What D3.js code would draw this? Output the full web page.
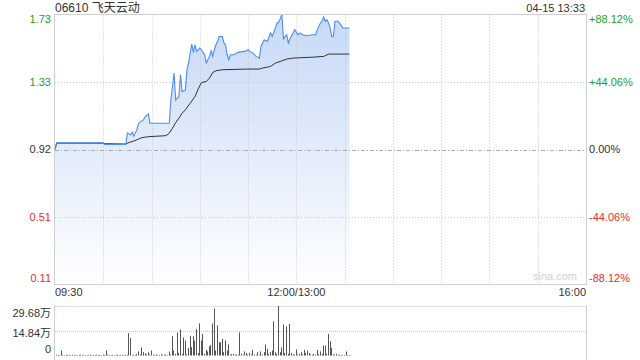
<!DOCTYPE html>
<html>
<head>
<meta charset="utf-8">
<script src="https://cdn.jsdelivr.net/npm/d3@7"></script>
<style>
body { margin: 0; background: #fff; }
text { font-family: "Liberation Sans", Arial, "Noto Sans CJK SC", sans-serif; font-size: 11px; }
</style>
</head>
<body>
<div class="chart"></div>
<script>
var stockCode = "06610", stockName = "飞天云动", stamp = "04-15 13:33";
var prevClose = 0.92;
var pctTicks = [-0.8812, -0.4406, 0, 0.4406, 0.8812];
var priceTickLabels = ["0.11", "0.51", "0.92", "1.33", "1.73"];
var pctTickLabels = ["-88.12%", "-44.06%", "0.00%", "+44.06%", "+88.12%"];
var timeLabels = ["09:30", "12:00/13:00", "16:00"];
var timeLabelMinutes = [0, 150, 330];
var gridMinutes = [30, 60, 90, 120, 150, 180, 210, 240, 270, 300];

// minute index (0 = 09:30, 150 = 13:00) and price
var priceMinutes = [0, 1, 30, 31, 44, 45, 47, 48, 49, 51, 52, 53, 55, 56, 58, 59, 71, 72, 74, 75, 77, 78, 79, 81, 82, 83, 85, 86, 87, 88, 90, 91, 93, 94, 96, 97, 98, 99, 100, 101, 102, 104, 105, 106, 107, 108, 109, 111, 114, 118, 120, 121, 123, 125, 127, 128, 130, 132, 133, 134, 135, 137, 138, 139, 141, 142, 144, 145, 146, 148, 149, 151, 152, 154, 156, 160, 162, 163, 165, 166, 167, 168, 169, 170, 171, 172, 173, 174, 176, 178, 179, 183];
var priceValues = [0.92, 0.96, 0.96, 0.95, 0.95, 1.02, 1.007, 1.025, 1.0, 1.042, 1.078, 1.086, 1.098, 1.116, 1.134, 1.078, 1.078, 1.218, 1.379, 1.218, 1.238, 1.369, 1.268, 1.278, 1.399, 1.441, 1.553, 1.503, 1.549, 1.509, 1.529, 1.519, 1.489, 1.439, 1.479, 1.513, 1.479, 1.519, 1.549, 1.569, 1.599, 1.599, 1.559, 1.549, 1.489, 1.459, 1.489, 1.489, 1.505, 1.509, 1.519, 1.509, 1.499, 1.479, 1.469, 1.539, 1.579, 1.569, 1.599, 1.62, 1.599, 1.65, 1.68, 1.684, 1.73, 1.585, 1.609, 1.559, 1.585, 1.62, 1.64, 1.609, 1.62, 1.609, 1.603, 1.609, 1.609, 1.64, 1.68, 1.69, 1.716, 1.69, 1.70, 1.68, 1.65, 1.599, 1.599, 1.69, 1.69, 1.664, 1.65, 1.65];

var avgMinutes = [0, 1, 30, 31, 44, 46, 49, 52, 54, 58, 69, 71, 73, 75, 77, 79, 81, 84, 87, 89, 91, 94, 96, 98, 100, 104, 119, 127, 129, 134, 137, 140, 144, 148, 161, 167, 170, 183];
var avgValues = [0.92, 0.958, 0.958, 0.955, 0.953, 0.962, 0.971, 0.983, 0.991, 0.997, 1.003, 1.018, 1.048, 1.081, 1.108, 1.138, 1.158, 1.198, 1.238, 1.284, 1.322, 1.328, 1.349, 1.382, 1.393, 1.399, 1.403, 1.403, 1.409, 1.419, 1.439, 1.449, 1.463, 1.469, 1.475, 1.479, 1.493, 1.493];

// volume per minute, 万股, minutes 0..183
var volumes = [
  0.5, 0.3, 0.3, 3.0, 0.4, 0.3, 0.5, 0.3, 0.4, 0.3, 0.5, 0.3, 0.4, 0.3, 0.4, 0.5, 0.3, 0.4, 0.3, 0.3,
  0.4, 0.5, 0.3, 0.4, 0.3, 0.5, 0.3, 0.4, 0.3, 0.6, 0.4, 3.0, 0.5, 0.4, 0.3, 0.4, 0.3, 0.5, 0.4, 0.3,
  0.4, 0.5, 0.3, 0.4, 0.5, 13.4, 10.4, 0.3, 0.5, 0.4, 0.8, 2.4, 0.6, 4.8, 2.0, 1.4, 0.5, 2.0, 0.6, 3.0,
  0.5, 0.4, 0.6, 0.3, 0.4, 0.8, 0.4, 0.5, 0.6, 0.4, 2.4, 0.5, 11.6, 3.0, 1.0, 13.8, 1.5, 15.6, 0.8, 10.8,
  9.0, 0.6, 4.5, 11.8, 5.0, 11.6, 9.0, 15.8, 1.5, 19.3, 9.0, 13.0, 1.0, 3.4, 2.4, 5.5, 6.3, 19.3, 28.2, 3.0,
  18.0, 8.0, 7.8, 10.0, 2.0, 9.0, 3.0, 6.6, 0.5, 0.8, 1.0, 0.5, 0.6, 0.4, 13.8, 1.0, 0.4, 2.4, 1.6, 0.5,
  1.6, 0.5, 3.5, 0.6, 0.4, 2.0, 0.4, 2.4, 0.6, 2.0, 6.6, 4.0, 1.0, 2.0, 3.0, 20.4, 2.0, 1.0, 29.6, 2.0,
  4.8, 18.6, 1.5, 17.4, 1.0, 19.0, 1.5, 0.6, 0.6, 3.6, 0.5, 1.0, 2.0, 0.6, 3.4, 1.5, 3.0, 1.5, 0.6, 0.4,
  1.0, 0.5, 3.4, 0.8, 2.5, 1.0, 6.0, 6.0, 1.0, 13.0, 8.6, 4.6, 0.6, 0.5, 1.0, 0.4, 0.5, 0.4, 0.3, 0.4,
  2.4, 0.3, 0.3, 0.2
];
var volMax = 29.68;
var volTickLabels = ["0", "14.84万", "29.68万"];

var width = 640, height = 360;
var plotLeft = 55, plotRight = 586, plotTop = 14.5, plotBottom = 284.5;
var volTop = 306, volBottom = 355.5;
var green = "#1fa01f", red = "#f02b2b", dark = "#333";

var svg = d3.select(".chart").append("svg")
    .attr("width", width)
    .attr("height", height);

var x = d3.scaleLinear().domain([0, 330]).range([plotLeft, plotRight]);
var y = d3.scaleLinear()
    .domain([prevClose * (1 + pctTicks[0]), prevClose * (1 + pctTicks[4])])
    .range([plotBottom, plotTop]);
var yVol = d3.scaleLinear().domain([0, volMax]).range([volBottom, volTop]);

var grad = svg.append("defs").append("linearGradient")
    .attr("id", "fillGrad")
    .attr("gradientUnits", "userSpaceOnUse")
    .attr("x1", 0).attr("y1", plotTop).attr("x2", 0).attr("y2", plotBottom);
grad.append("stop").attr("offset", 0).attr("stop-color", "#c6d9f6");
grad.append("stop").attr("offset", 1).attr("stop-color", "#ffffff");

// header
svg.append("text").attr("x", plotLeft).attr("y", 12)
    .style("font-size", "12px").style("fill", dark)
    .text(stockCode + " " + stockName);
svg.append("text").attr("x", plotRight - 1).attr("y", 12)
    .attr("text-anchor", "end").style("fill", dark)
    .text(stamp);

// price area + lines
var pts = priceMinutes.map(function(m, i) { return [m, priceValues[i]]; });
var avgPts = avgMinutes.map(function(m, i) { return [m, avgValues[i]]; });

svg.append("path")
    .datum(pts)
    .attr("fill", "url(#fillGrad)")
    .attr("d", d3.area()
        .x(function(d) { return x(d[0]); })
        .y0(plotBottom)
        .y1(function(d) { return y(d[1]); }));

// grid
svg.selectAll(".vgrid")
    .data(gridMinutes)
    .enter().append("line")
    .attr("class", "vgrid")
    .attr("x1", function(d) { return Math.round(x(d)) + 0.5; })
    .attr("x2", function(d) { return Math.round(x(d)) + 0.5; })
    .attr("y1", plotTop).attr("y2", plotBottom)
    .style("stroke", "#c8c8c8").style("stroke-dasharray", "1,2");

svg.selectAll(".hgrid")
    .data(pctTicks.slice(1, 4))
    .enter().append("line")
    .attr("class", "hgrid")
    .attr("x1", plotLeft).attr("x2", plotRight)
    .attr("y1", function(d) { return Math.round(y(prevClose * (1 + d))) + 0.5; })
    .attr("y2", function(d) { return Math.round(y(prevClose * (1 + d))) + 0.5; })
    .style("stroke", function(d) { return d === 0 ? "#aaa" : "#c8c8c8"; })
    .style("stroke-dasharray", function(d) { return d === 0 ? "4,2,1,2" : "1,2"; });

var line = d3.line()
    .x(function(d) { return x(d[0]); })
    .y(function(d) { return y(d[1]); });

svg.append("path").datum(avgPts)
    .attr("d", line)
    .style("fill", "none").style("stroke", "#333").style("stroke-width", 1);

svg.append("path").datum(pts)
    .attr("d", line)
    .style("fill", "none").style("stroke", "#4f8cf0").style("stroke-width", 1.1);

// frame
svg.append("rect")
    .attr("x", plotLeft - 0.5).attr("y", plotTop)
    .attr("width", plotRight - plotLeft + 1).attr("height", plotBottom - plotTop)
    .style("fill", "none").style("stroke", "#cfcfcf");

// watermark
svg.append("text").attr("x", plotRight - 9).attr("y", 280)
    .attr("text-anchor", "end").style("fill", "#d0d0d0").style("font-size", "11px")
    .text("sina.com");

// price axis labels
function tickColor(d) { return d > 0 ? green : (d < 0 ? red : dark); }
function tickY(d, i) {
    var v = y(prevClose * (1 + d));
    if (i === 0) return v - 6;
    if (i === 4) return v + 5;
    return v;
}
svg.selectAll(".ylab")
    .data(pctTicks)
    .enter().append("text")
    .attr("class", "ylab")
    .attr("x", plotLeft - 4).attr("y", tickY)
    .attr("dy", "0.35em").attr("text-anchor", "end")
    .style("fill", tickColor)
    .text(function(d, i) { return priceTickLabels[i]; });

svg.selectAll(".pctlab")
    .data(pctTicks)
    .enter().append("text")
    .attr("class", "pctlab")
    .attr("x", plotRight + 3).attr("y", tickY)
    .attr("dy", "0.35em")
    .style("fill", tickColor)
    .text(function(d, i) { return pctTickLabels[i]; });

// time labels
svg.selectAll(".tlab")
    .data(timeLabelMinutes)
    .enter().append("text")
    .attr("class", "tlab")
    .attr("x", function(d) { return x(d); })
    .attr("y", 296)
    .attr("text-anchor", function(d, i) { return i === 0 ? "start" : (i === 2 ? "end" : "middle"); })
    .style("fill", dark)
    .text(function(d, i) { return timeLabels[i]; });

// volume panel
svg.append("line")
    .attr("x1", plotLeft).attr("x2", plotRight).attr("y1", volTop + 0.5).attr("y2", volTop + 0.5)
    .style("stroke", "#c8c8c8").style("stroke-dasharray", "1,1");
svg.append("line")
    .attr("x1", plotLeft).attr("x2", plotRight)
    .attr("y1", Math.round(yVol(volMax / 2)) + 0.5).attr("y2", Math.round(yVol(volMax / 2)) + 0.5)
    .style("stroke", "#c8c8c8").style("stroke-dasharray", "1,1");
[plotLeft - 0.5, plotRight + 0.5].forEach(function(px) {
    svg.append("line")
        .attr("x1", px).attr("x2", px).attr("y1", volTop).attr("y2", height)
        .style("stroke", "#d0d0d0");
});

svg.selectAll(".vbar")
    .data(volumes)
    .enter().append("rect")
    .attr("class", "vbar")
    .attr("x", function(d, i) { return Math.round(x(i)) + 1; })
    .attr("width", 1)
    .attr("y", function(d) { return yVol(d); })
    .attr("height", function(d) { return volBottom - yVol(d); })
    .style("fill", "#555");

var volTicks = [0, volMax / 2, volMax];
svg.selectAll(".vlab")
    .data(volTicks)
    .enter().append("text")
    .attr("class", "vlab")
    .attr("x", plotLeft - 4)
    .attr("y", function(d, i) { return yVol(d) + (i === 0 ? -6 : (i === 2 ? 7 : 2)); })
    .attr("dy", "0.35em").attr("text-anchor", "end")
    .style("fill", dark)
    .text(function(d, i) { return volTickLabels[i]; });
</script>
</body>
</html>
